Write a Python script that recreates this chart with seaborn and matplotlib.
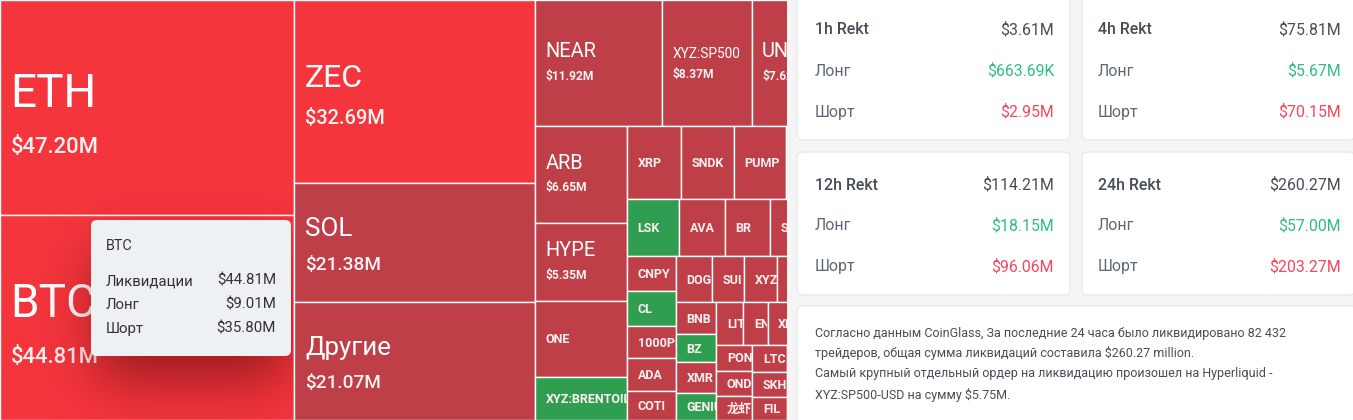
import numpy as np
import matplotlib
matplotlib.use('Agg')
import matplotlib.pyplot as plt
from matplotlib.patches import Rectangle, FancyBboxPatch
from matplotlib.transforms import Bbox
import seaborn as sns

# 24h liquidations per coin, $M (list order = layout order)
coins = ['ETH', 'BTC', 'ZEC', 'SOL', 'Другие', 'NEAR', 'XYZ:SP500', 'UNI',
         'ARB', 'HYPE', 'ONE', 'XYZ:BRENTOIL',
         'XRP', 'SNDK', 'PUMP', 'ASTER',
         'LSK', 'AVA', 'BR', 'SEI', 'TAO',
         'CNPY', 'CL', '1000PEPE', 'ADA', 'COTI',
         'DOGE', 'SUI', 'XYZ:GOLD', 'ZRO', 'WLD',
         'BNB', 'BZ', 'XMR', 'GENIUS',
         'LIT', 'ENA', 'XPL', 'AAVE', 'LINK',
         'PONKE', 'ONDO', '龙虾',
         'LTC', 'SKHX', 'FIL',
         'TRUMP', 'AVAX', 'WIF', 'OP']
liq = [47.20, 44.81, 32.69, 21.38, 21.07, 11.92, 8.37, 7.62,
       6.65, 5.35, 5.19, 2.98,
       2.93, 2.90, 2.85, 2.55,
       2.21, 1.93, 1.92, 1.40, 1.27,
       1.28, 1.28, 1.17, 1.20, 1.06,
       1.22, 1.11, 1.13, 1.00, 0.91,
       0.95, 0.84, 0.91, 0.81,
       0.86, 0.77, 0.75, 0.70, 0.63,
       0.70, 0.67, 0.64,
       0.70, 0.66, 0.60,
       0.70, 0.66, 0.62, 0.57]
long_heavy = ['XYZ:BRENTOIL', 'LSK', 'CL', 'BZ', 'GENIUS']
short_heavy = ['ETH', 'BTC', 'ZEC']

# tooltip (BTC)
tip_coin = 'BTC'
tip_labels = ['Ликвидации', 'Лонг', 'Шорт']
tip_values = ['$44.81M', '$9.01M', '$35.80M']

# summary cards
periods = ['1h Rekt', '4h Rekt', '12h Rekt', '24h Rekt']
rekt_total = ['$3.61M', '$75.81M', '$114.21M', '$260.27M']
rekt_long = ['$663.69K', '$5.67M', '$18.15M', '$57.00M']
rekt_short = ['$2.95M', '$70.15M', '$96.06M', '$203.27M']

summary = ['Согласно данным CoinGlass, За последние 24 часа было ликвидировано 82 432',
           'трейдеров, общая сумма ликвидаций составила $260.27 million.',
           'Самый крупный отдельный ордер на ликвидацию произошел на Hyperliquid -',
           'XYZ:SP500-USD на сумму $5.75M.']

sns.set_theme(style='white')
plt.rcParams['font.family'] = ['Roboto', 'Noto Sans CJK SC', 'DejaVu Sans']


def worst(areas, side, ratio):
    s = sum(areas)
    f = side * side * ratio
    return max(f * max(areas) / (s * s), (s * s) / (f * min(areas)))


def squarify(values, x, y, w, h, ratio=0.5 * (1 + 5 ** 0.5)):
    # echarts-style squarified layout, keeps the given order
    total = sum(values)
    areas = [v * w * h / total for v in values]
    rect = [x, y, w, h]
    out = []

    def place(row, side, flush):
        a = sum(areas[j] for j in row)
        horiz = side == rect[2]
        thick = a / side
        if flush:
            thick = rect[3] if horiz else rect[2]
        pos = rect[0] if horiz else rect[1]
        for j in row:
            step = areas[j] / thick
            if horiz:
                out.append((pos, rect[1], step, thick))
            else:
                out.append((rect[0], pos, thick, step))
            pos += step
        if horiz:
            rect[1] += thick
            rect[3] -= thick
        else:
            rect[0] += thick
            rect[2] -= thick

    row, best, i = [], np.inf, 0
    side = min(rect[2], rect[3])
    while i < len(areas):
        row.append(i)
        score = worst([areas[j] for j in row], side, ratio)
        if score <= best:
            best = score
            i += 1
        else:
            row.pop()
            place(row, side, False)
            side = min(rect[2], rect[3])
            row, best = [], np.inf
    if row:
        place(row, side, True)
    return out


def label_sizes(v):
    if v >= 40:
        return 46, 22
    if v >= 30:
        return 32, 20
    if v >= 20:
        return 26, 19
    if v >= 5.3:
        return 20, 12
    return 12.5, None


fig = plt.figure(figsize=(13.53, 4.20), dpi=100)
ax = fig.add_axes([0, 0, 1, 1])
ax.set_xlim(0, 1353)
ax.set_ylim(420, 0)
ax.axis('off')
renderer = fig.canvas.get_renderer()

panel_x = 787


def clip_for(x, y, w, h):
    pts = ax.transData.transform([[x + 0.5, y], [min(x + w - 0.5, panel_x), y + h]])
    return Bbox.from_extents(pts[:, 0].min(), pts[:, 1].min(), pts[:, 0].max(), pts[:, 1].max())


colors = {'deep': '#F5353C', 'short': '#BE3F48', 'long': '#2F9E50'}
rects = squarify(liq, 0, 0, 833, 420)
pad = 10.5
for name, v, (x, y, w, h) in zip(coins, liq, rects):
    kind = 'long' if name in long_heavy else ('deep' if name in short_heavy else 'short')
    cell = Rectangle((x, y), w, h, facecolor=colors[kind], edgecolor='white', linewidth=1, zorder=1)
    ax.add_patch(cell)
    if x + pad >= panel_x:
        continue
    box = clip_for(x, y, w, h)
    name_px, val_px = label_sizes(v)
    cy = y + h / 2
    if val_px is None:
        t = ax.text(x + pad, cy + 0.36 * name_px, name, fontsize=name_px * 0.72, fontweight='bold',
                    color='#FBEFEF', va='baseline', ha='left', zorder=2, parse_math=False,
                    clip_on=True)
        t.set_clip_path(None)
        t.set_clip_box(box)
        continue
    t = ax.text(x + pad, cy, name, fontsize=name_px * 0.72, color='white',
                va='baseline', ha='left', zorder=2, parse_math=False, clip_on=True)
    wpx = t.get_window_extent(renderer).width
    if wpx > w - 2 * pad:
        name_px = name_px * (w - 2 * pad) / wpx
        t.set_fontsize(name_px * 0.72)
    gap = 0.8 * (name_px + val_px)
    cy += max(0.0, name_px - 20) * 0.38
    t.set_position((x + pad, cy - gap / 2 + 0.36 * name_px))
    t.set_clip_path(None)
    t.set_clip_box(box)
    tv = ax.text(x + pad, cy + gap / 2 + 0.36 * val_px, f'${v:.2f}M', fontsize=val_px * 0.72,
                 fontweight='bold' if val_px < 15 else 'medium', color='#FDF3F3',
                 va='baseline', ha='left', zorder=2, parse_math=False, clip_on=True)
    tv.set_clip_path(None)
    tv.set_clip_box(box)

# tooltip shadow over BTC
xs = np.arange(0, 293) + 0.5
ys = np.arange(150, 420) + 0.5
sig = 17.0
sx = 1 / (1 + np.exp(-(xs - 98) / sig)) - 1 / (1 + np.exp(-(xs - 285) / sig))
sy = 1 / (1 + np.exp(-(ys - 250) / sig)) - 1 / (1 + np.exp(-(ys - 380) / sig))
shade = np.zeros((len(ys), len(xs), 4))
shade[..., 0] = 0.35
shade[..., 1] = 0.03
shade[..., 2] = 0.05
shade[..., 3] = 0.6 * sy[:, None] * sx[None, :]
ax.imshow(shade, extent=(0, 293, 420, 150), zorder=4, interpolation='bilinear')

tip = FancyBboxPatch((91, 220), 200, 136, boxstyle='round,pad=0,rounding_size=6',
                     facecolor='#EEF1F4', edgecolor='none', zorder=5)
ax.add_patch(tip)
ax.text(106, 246, tip_coin, fontsize=10.4, color='#333333', va='center', zorder=6)
for k, (lab, val) in enumerate(zip(tip_labels, tip_values)):
    ax.text(106, 281 + 24 * k, lab, fontsize=10.8, color='#333333', va='center', zorder=6, parse_math=False)
    ax.text(276, 281 + 24 * k, val, fontsize=10.8, color='#333333', va='center', ha='right',
            zorder=6, parse_math=False)

# right panel
ax.add_patch(Rectangle((panel_x, 0), 1353 - panel_x, 420, facecolor='#F5F5F5', edgecolor='none', zorder=7))
card_x = [797, 1082]
card_y = [-20, 152]
card_h = [160, 143]
for i in range(4):
    c, r = i % 2, i // 2
    ax.add_patch(FancyBboxPatch((card_x[c], card_y[r]), 273, card_h[r],
                                boxstyle='round,pad=0,rounding_size=6', facecolor='white',
                                edgecolor='#E8E9EB', linewidth=1, zorder=8))
    xl = card_x[c] + 18 - 2 * c
    xr = card_x[c] + 257 + 2 * c
    y0 = [30, 185][r]
    ax.text(xl, y0, periods[i], fontsize=11.4, fontweight='medium', color='#474D57', va='center', zorder=9)
    ax.text(xr, y0, rekt_total[i], fontsize=11.4, color='#474D57', va='center', ha='right',
            zorder=9, parse_math=False)
    ax.text(xl, y0 + 41, 'Лонг', fontsize=11.4, color='#5E6673', va='center', zorder=9)
    ax.text(xr, y0 + 41, rekt_long[i], fontsize=11.4, color='#2EBD85', va='center', ha='right',
            zorder=9, parse_math=False)
    ax.text(xl, y0 + 82, 'Шорт', fontsize=11.4, color='#5E6673', va='center', zorder=9)
    ax.text(xr, y0 + 82, rekt_short[i], fontsize=11.4, color='#F6465D', va='center', ha='right',
            zorder=9, parse_math=False)

ax.add_patch(FancyBboxPatch((797, 306), 560, 140, boxstyle='round,pad=0,rounding_size=6',
                            facecolor='white', edgecolor='#E8E9EB', linewidth=1, zorder=8))
for k, line in enumerate(summary):
    ax.text(815, 333 + 20.5 * k, line, fontsize=9.0, color='#474D57', va='center', zorder=9,
            parse_math=False)

ax.set_xlim(0, 1353)
ax.set_ylim(420, 0)
ax.set_aspect('auto')
fig.savefig('out.png', dpi=100)
